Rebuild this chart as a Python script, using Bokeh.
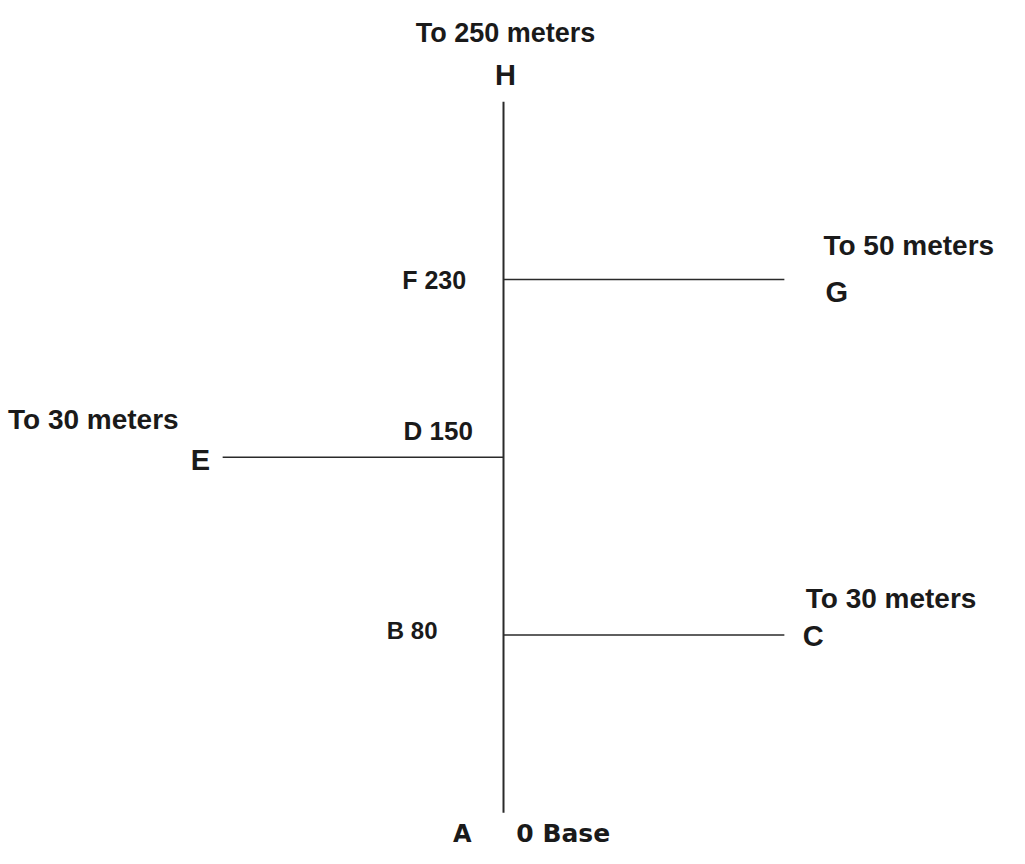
from bokeh.plotting import figure
from bokeh.models import ColumnDataSource, Range1d
from bokeh.core.properties import field
from bokeh.embed import file_html
from bokeh.resources import INLINE

# ---- data (schematic survey layout) ----
station_names = ["A", "B", "D", "F", "H"]
station_dist = [0, 80, 150, 230, 250]          # meters along the base line
branch_from = ["B", "D", "F"]
branch_to = ["C", "E", "G"]
branch_side = [1, -1, 1]                       # 1 = right, -1 = left
branch_len = [30, 30, 50]                      # meters of each offset line

# schematic positions: stations equally spaced along the trunk, branches of unit length
st_index = {n: i for i, n in enumerate(station_names)}
trunk_x = [0, 0]
trunk_y = [st_index[station_names[0]], st_index[station_names[-1]]]
br_x0 = [0 for _ in branch_from]
br_x1 = [s * 1.0 for s in branch_side]
br_y = [st_index[n] for n in branch_from]

W, H = 1009, 848
SX, SY = W / 1025, H / 864

p = figure(width=W, height=H, output_backend="svg", toolbar_location=None,
           x_range=Range1d(-1.791, 1.8016), y_range=Range1d(-0.2010, 4.5699),
           min_border=0, background_fill_color="white", border_fill_color="white")
p.axis.visible = False
p.grid.visible = False
p.outline_line_color = None

p.line(trunk_x, trunk_y, line_color="#2a2a2a", line_width=2)
p.segment(x0=br_x0, y0=br_y, x1=br_x1, y1=br_y, line_color="#2a2a2a", line_width=1.5)

SANS = "Liberation Sans"
WIDE = "DejaVu Sans"

lab = dict(x=[], y=[], text=[], xo=[], yo=[], font=[], size=[], align=[])

def add(x, y, text, xo, yo, font, size, align):
    corr = 0.32 * size
    lab["x"].append(x); lab["y"].append(y); lab["text"].append(text)
    lab["xo"].append(xo * SX); lab["yo"].append(yo * SY - corr); lab["font"].append(font)
    lab["size"].append(f"{size}px"); lab["align"].append(align)

# station labels
for n, d in zip(station_names, station_dist):
    y = st_index[n]
    if n == station_names[0]:
        add(0, y, n, -42, 29.4, WIDE, 24, "center")
        add(0, y, f"{d} Base", 13, 29.4, WIDE, 25, "left")
    elif n == station_names[-1]:
        add(0, y, n, 2, -18, SANS, 29, "center")
        add(0, y, f"To {d} meters", 2, -61, SANS, 27, "center")
    elif n == "B":
        add(0, y, f"{n} {d}", -67, 3.5, SANS, 24, "right")
    elif n == "D":
        add(0, y, f"{n} {d}", -31, -18.4, SANS, 26, "right")
    else:
        add(0, y, f"{n} {d}", -38, 8.7, SANS, 25, "right")

# branch end labels
end_offsets = {"C": (18.7, 10.5, 21.7, -28.5),
               "E": (-12.7, 12.6, -44.7, -29.4),
               "G": (41.7, 21.7, 39.7, -25.3)}
for t, s, L, x1, y in zip(branch_to, branch_side, branch_len, br_x1, br_y):
    lx, ly, tx, ty = end_offsets[t]
    al = "left" if s > 0 else "right"
    add(x1, y, t, lx, ly, SANS, 29, al)
    add(x1, y, f"To {L} meters", tx, ty, SANS, 28, al)

src = ColumnDataSource(lab)
p.text(x="x", y="y", text="text", source=src, x_offset="xo", y_offset="yo",
       text_font=field("font"), text_font_size=field("size"), text_align=field("align"),
       text_baseline="alphabetic", text_font_style="bold", text_color="#1a1a1a")

open("out.html", "w").write(file_html(p, INLINE))
